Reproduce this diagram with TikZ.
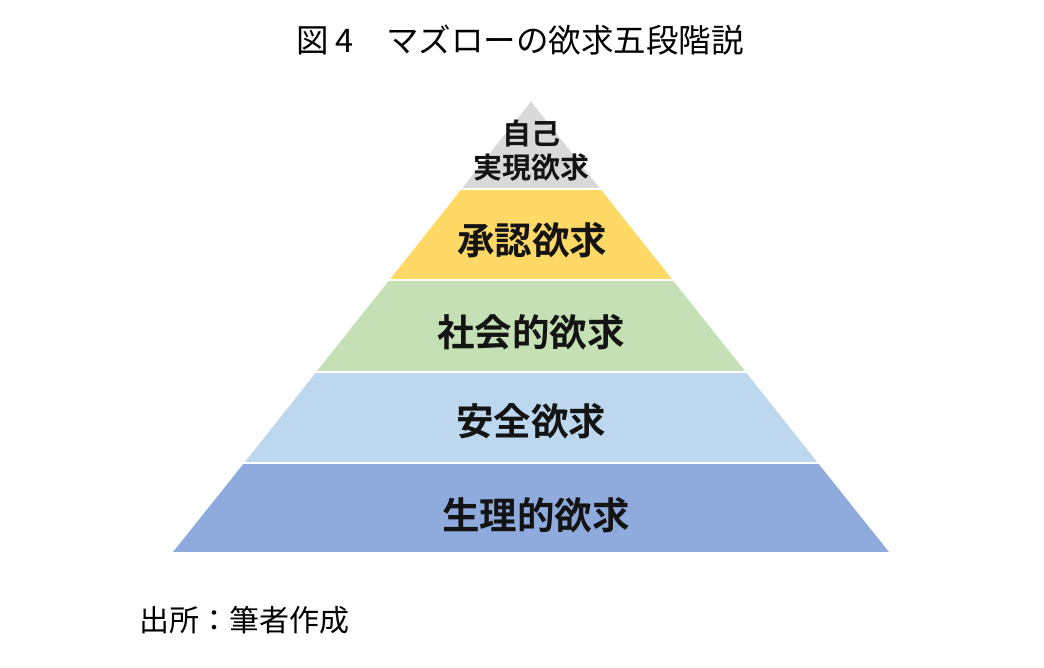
\documentclass[tikz,border=0pt]{standalone}
\usepackage{fontspec}
\newfontfamily\jp{Noto Sans CJK JP}
\newfontfamily\jpb{Noto Sans CJK JP Bold}
\definecolor{cgray}{HTML}{D9D9D9}
\definecolor{cyellow}{HTML}{FFD966}
\definecolor{cgreen}{HTML}{C5E0B4}
\definecolor{clblue}{HTML}{BDD7EE}
\definecolor{cblue}{HTML}{8FAADC}
\begin{document}
\begin{tikzpicture}[x=1pt,y=-1pt,
  band/.style={draw=white,line width=1.6pt,line join=miter},
  lbl/.style={inner sep=0pt,font=\jpb\fontsize{37.5}{40}\selectfont,text=black!92},
  small/.style={inner sep=0pt,font=\jpb\fontsize{29}{32}\selectfont,text=black!92}]
\useasboundingbox (0,0) rectangle (1044,667);
% apex (531,100), base y=553 half width 359.5
\filldraw[band,fill=cgray]   (531,100) -- (601.6,189) -- (460.4,189) -- cycle;
\filldraw[band,fill=cyellow] (460.4,189) -- (601.6,189) -- (673.8,280) -- (388.2,280) -- cycle;
\filldraw[band,fill=cgreen]  (388.2,280) -- (673.8,280) -- (746.9,372) -- (315.1,372) -- cycle;
\filldraw[band,fill=clblue]  (315.1,372) -- (746.9,372) -- (819.1,463) -- (242.9,463) -- cycle;
\filldraw[band,fill=cblue]   (242.9,463) -- (819.1,463) -- (891,553) -- (171,553) -- cycle;
\node[small] (l1a) at (531,133) {自己};
\node[small] (l1b) at (531,167) {実現欲求};
\node[lbl] (l2) at (532,240) {承認欲求};
\node[lbl] (l3) at (531,332) {社会的欲求};
\node[lbl] (l4) at (531,421) {安全欲求};
\node[lbl] (l5) at (536,515) {生理的欲求};
\node[inner sep=0pt,font=\jp\fontsize{32.5}{35}\selectfont] (title) at (520,40) {図 4　マズローの欲求五段階説};
\node[inner sep=0pt,anchor=west,font=\jp\fontsize{30}{33}\selectfont] (src) at (139,620) {出所：筆者作成};
\end{tikzpicture}
\end{document}
